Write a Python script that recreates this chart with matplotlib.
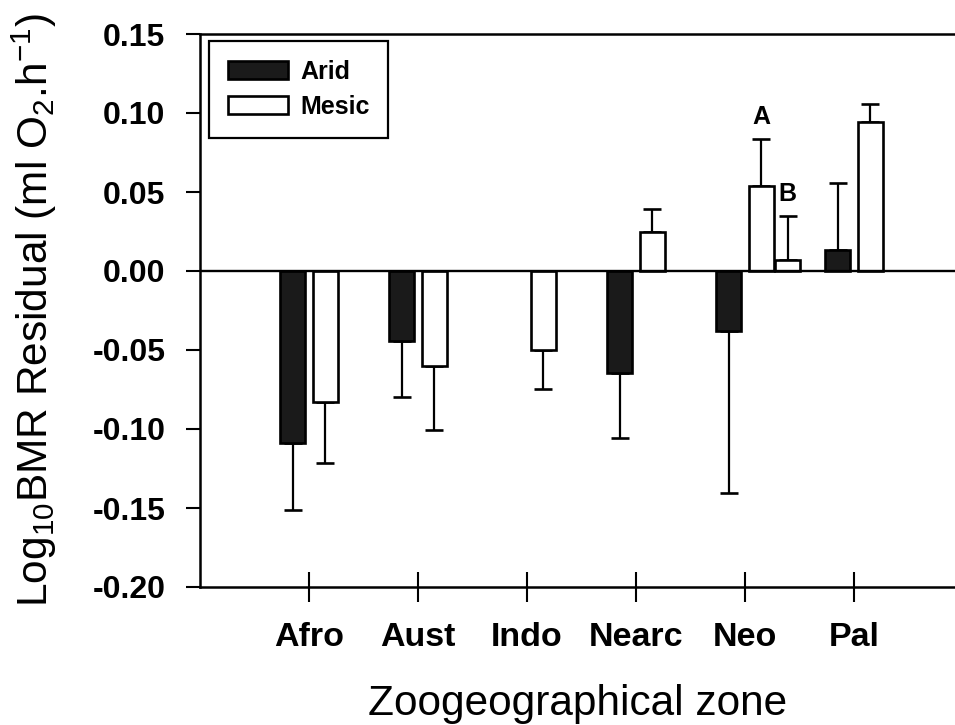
"""
BMR residuals by zoogeographical zone, arid vs mesic species.
"""

import matplotlib
import matplotlib.pyplot as plt
import numpy as np

matplotlib.use("Agg")

plt.rcParams["font.family"] = ["Liberation Sans", "DejaVu Sans"]
plt.rcParams["mathtext.default"] = "regular"
plt.rcParams["axes.unicode_minus"] = False

# Data
ZONES = ["Afro", "Aust", "Indo", "Nearc", "Neo", "Pal"]
ARID = [-0.1086, -0.0441, np.nan, -0.0644, -0.0377, 0.0134]
ARID_ERR = [0.0426, 0.0359, np.nan, 0.0410, 0.1029, 0.0423]
MESIC = [-0.0826, -0.0601, -0.0500, 0.0246, 0.0538, 0.0944]
MESIC_ERR = [0.0388, 0.0404, 0.0250, 0.0148, 0.0300, 0.0116]

# Neo has two mesic groups: A (main mesic bar) and B (extra bar)
NEO_B = [0.0071]
NEO_B_ERR = [0.0276]

YTICKS = [-0.20, -0.15, -0.10, -0.05, 0.00, 0.05, 0.10, 0.15]

BAR_W = 0.23
OFFSET = 0.15


def one_sided(values, errors):
    """Error only away from zero: returns [lower, upper]."""
    values = np.asarray(values, dtype=float)
    errors = np.asarray(errors, dtype=float)
    lower = np.where(values < 0, errors, 0.0)
    upper = np.where(values >= 0, errors, 0.0)
    return [lower, upper]


fig = plt.figure(figsize=(9.55, 7.25), dpi=100)
ax = fig.add_axes([200 / 955, (725 - 587) / 725, 755 / 955, 553 / 725])

x = np.arange(1, len(ZONES) + 1)
arid = np.array(ARID, dtype=float)
arid_err = np.array(ARID_ERR, dtype=float)
ok = np.isfinite(arid)

bar_kw = dict(width=BAR_W, edgecolor="black", linewidth=1.9, zorder=3)
err_kw = dict(fmt="none", ecolor="black", elinewidth=1.6, capsize=6.5,
              capthick=1.9, zorder=2)

ax.bar(x[ok] - OFFSET, arid[ok], color="#1a1a1a", label="Arid", **bar_kw)
ax.errorbar(x[ok] - OFFSET, arid[ok], yerr=one_sided(arid[ok], arid_err[ok]), **err_kw)

ax.bar(x + OFFSET, MESIC, color="white", label="Mesic", **bar_kw)
ax.errorbar(x + OFFSET, MESIC, yerr=one_sided(MESIC, MESIC_ERR), **err_kw)

# Extra mesic bar for Neo (group B)
neo = ZONES.index("Neo")
xb = [x[neo] + OFFSET + BAR_W + 0.01]
ax.bar(xb, NEO_B, color="white", **bar_kw)
ax.errorbar(xb, NEO_B, yerr=one_sided(NEO_B, NEO_B_ERR), **err_kw)

# Letters above the two Neo mesic groups
for lab, xpos, top in [("A", x[neo] + OFFSET, MESIC[neo] + MESIC_ERR[neo]),
                       ("B", xb[0], NEO_B[0] + NEO_B_ERR[0])]:
    ax.annotate(lab, xy=(xpos, top), xytext=(0, 7), textcoords="offset points",
                ha="center", va="bottom", fontsize=18, fontweight="bold")

ax.axhline(0, color="black", linewidth=1.7, zorder=4)

ax.set_xlim(0, 755 / 109)
ax.set_ylim(-0.20, 0.15)
ax.set_xticks(x)
ax.set_xticklabels(ZONES, fontsize=24.5, fontweight="bold")
ax.set_yticks(YTICKS)
ax.set_yticklabels([f"{v:.2f}" for v in YTICKS], fontsize=23, fontweight="bold")

ax.tick_params(axis="x", direction="inout", length=21, width=1.5, pad=15)
ax.tick_params(axis="y", direction="out", length=10, width=1.5, pad=15)

ax.spines["right"].set_visible(False)
for side in ["left", "top", "bottom"]:
    ax.spines[side].set_linewidth(1.8)

ax.set_xlabel("Zoogeographical zone", fontsize=30.5, labelpad=22)
ax.set_ylabel(r"Log$_{10}$BMR Residual (ml O$_2$.h$^{-1}$)", fontsize=30.5, labelpad=24)

leg = ax.legend(loc="upper left", bbox_to_anchor=(209 / 955, 1 - 41 / 725),
                bbox_transform=fig.transFigure, borderaxespad=0,
                fancybox=False, edgecolor="black", framealpha=1,
                prop={"size": 18, "weight": "bold"},
                handlelength=2.4, handleheight=0.75, handletextpad=0.5,
                borderpad=0.75, labelspacing=0.45)
leg.get_frame().set_linewidth(1.6)

plt.savefig("out.png", dpi=100)
plt.close()
